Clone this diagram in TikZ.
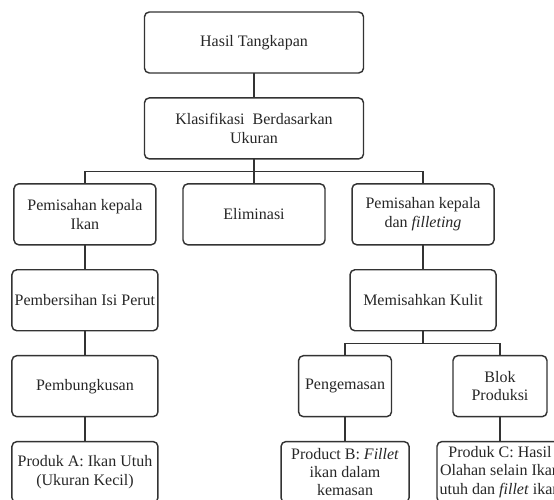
\documentclass[tikz,border=0pt]{standalone}
\usepackage{fontspec}
\setmainfont{Liberation Serif}
\usetikzlibrary{positioning, calc}
\tikzset{
    stage/.style={
        rectangle, rounded corners=3pt,
        draw=black!80, line width=0.9pt, text=black!85,
        minimum width=91.25pt, minimum height=38.1pt,
        inner sep=1pt, outer sep=0pt,
        font=\fontsize{10}{11.5}\selectfont, align=center
    },
    link/.style={line width=0.7pt, draw=black!80}
}

\begin{document}
\begin{tikzpicture}[x=0.625pt, y=-0.625pt, node distance=15.6pt and 16.9pt]
    \useasboundingbox (0,0) rectangle (554,500);
    \clip (0,0) rectangle (554,500);
    % top of the tree
    \node[stage, minimum width=136.9pt] (hasil) at (254,42.5) {Hasil Tangkapan};
    \node[stage, minimum width=136.9pt, below=of hasil] (klas) {Klasifikasi~~Berdasarkan\\Ukuran};
    % three ways
    \node[stage, minimum width=88.75pt, below=of klas] (elim) {Eliminasi};
    \node[stage, minimum width=88.75pt, left=of elim] (kepala) {Pemisahan kepala\\Ikan};
    \node[stage, minimum width=88.75pt, right=of elim] (fillet) {Pemisahan kepala\\dan \textit{filleting}};
    % left column
    \node[stage, below=of kepala] (bersih) {Pembersihan Isi Perut};
    \node[stage, below=of bersih] (bungkus) {Pembungkusan};
    \node[stage, below=of bungkus] (produkA) {Produk A: Ikan Utuh\\(Ukuran Kecil)};
    % right column
    \node[stage, below=of fillet] (kulit) {Memisahkan Kulit};
    \node[stage, minimum width=58.1pt, below=of kulit, xshift=-48.75pt] (kemas) {Pengemasan};
    \node[stage, minimum width=58.75pt, below=of kulit, xshift=48.1pt] (blok) {Blok\\Produksi};
    \node[stage, minimum width=80pt, below=of kemas] (produkB) {Product B: \textit{Fillet}\\ikan dalam\\kemasan};
    \node[stage, minimum width=78.75pt, inner xsep=0pt, below=of blok] (produkC) {Produk C: Hasil\\Olahan selain Ikan\\utuh dan \textit{fillet} ikan};

    \coordinate (split1) at ($(klas.south)!0.5!(elim.north)$);
    \coordinate (split2) at ($(kulit.south)!0.5!(kemas.north)$);

    \draw[link] (hasil) -- (klas);
    \draw[link] (klas) -- (elim);
    \draw[link] (kepala.north) |- (split1) -| (fillet.north);
    \draw[link] (kepala) -- (bersih);
    \draw[link] (bersih) -- (bungkus);
    \draw[link] (bungkus) -- (produkA);
    \draw[link] (fillet) -- (kulit);
    \draw[link] (kulit.south) -- (kulit.south |- split2);
    \draw[link] (kemas.north) |- (split2) -| (blok.north);
    \draw[link] (kemas) -- (produkB);
    \draw[link] (blok) -- (produkC);
\end{tikzpicture}
\end{document}
